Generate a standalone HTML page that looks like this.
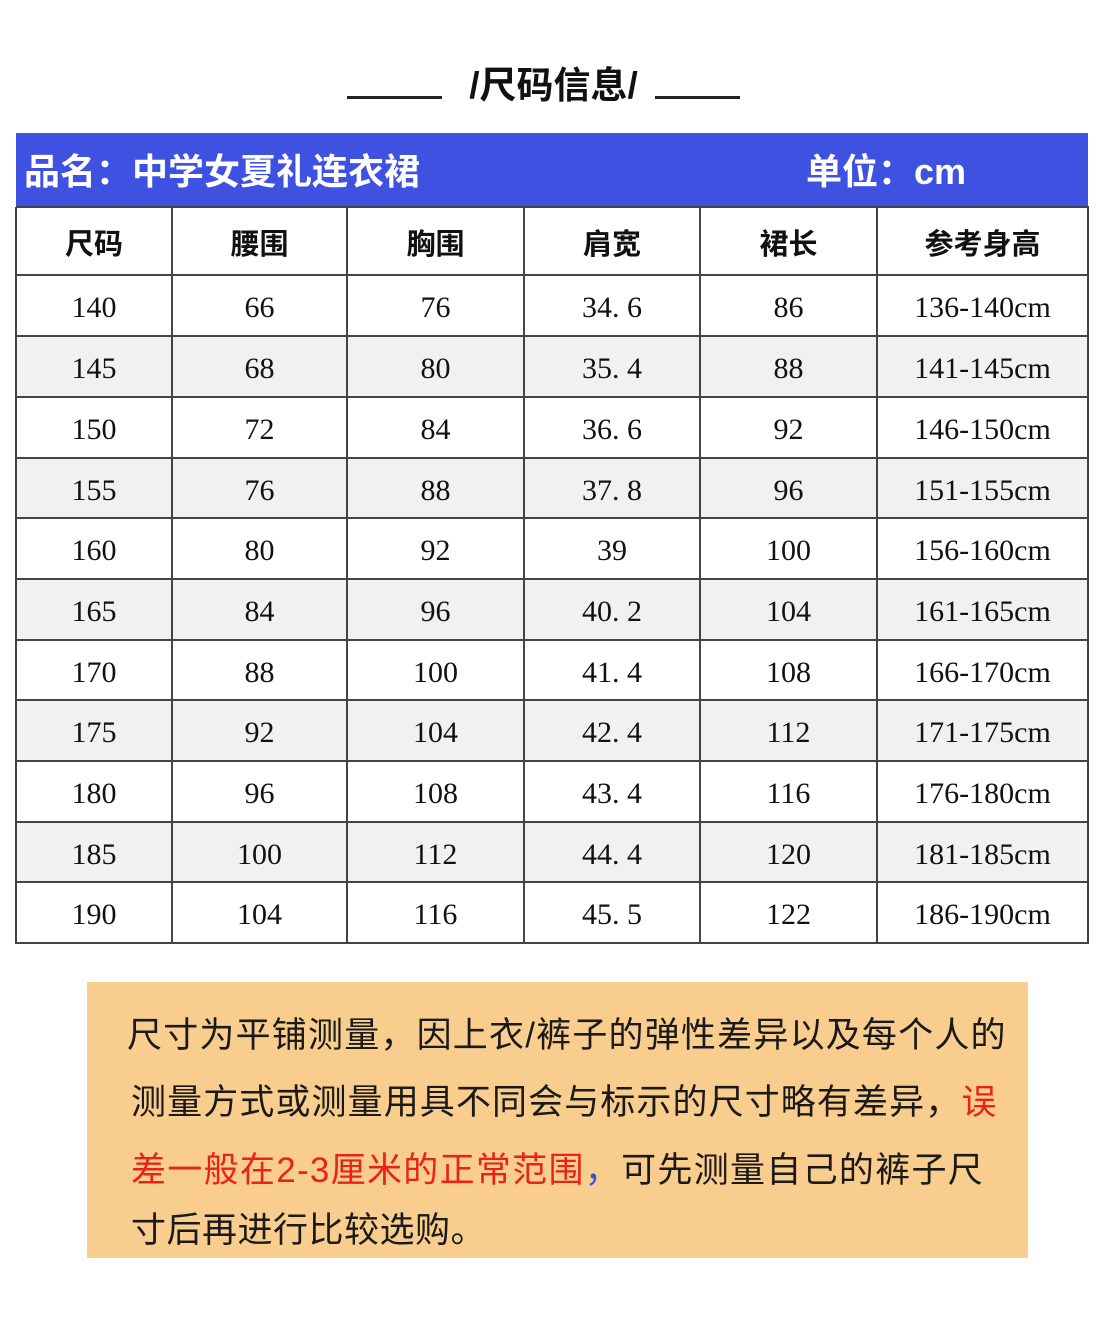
<!DOCTYPE html>
<html><head><meta charset="utf-8">
<style>
html,body{margin:0;padding:0;background:#fff;}
body{width:1107px;height:1323px;position:relative;overflow:hidden;font-family:"Liberation Sans","Noto Sans CJK SC",sans-serif;}
.abs{position:absolute;}
.title{left:0;width:1107px;top:61px;text-align:center;font:bold 37px "Liberation Sans","Noto Sans CJK SC",sans-serif;color:#111;line-height:50px;}
.ln{height:3px;background:#222;top:96px;}
.bar{left:16px;top:133px;width:1072px;height:74px;background:#3f51e0;}
.bar span{position:absolute;top:2px;color:#fff;font:bold 36px "Liberation Sans","Noto Sans CJK SC",sans-serif;line-height:74px;}
.row{position:absolute;left:16px;width:1072px;}
.hl{position:absolute;left:16px;width:1073px;height:2px;background:#444;}
.vl{position:absolute;width:2px;background:#444;top:207px;height:737px;}
.cell{position:absolute;text-align:center;font:30px "Liberation Serif","Noto Serif CJK SC",serif;color:#111;}
.hcell{position:absolute;text-align:center;font:bold 29px "Liberation Sans","Noto Sans CJK SC",sans-serif;color:#111;}
.box{left:87px;top:982px;width:941px;height:276px;background:#f9cd8d;}
.t{position:absolute;left:127px;white-space:nowrap;font:35px "Liberation Sans","Noto Sans CJK SC",sans-serif;color:#1a1a1a;line-height:50px;}
.red{color:#e8231b;}
.blue{color:#3355cc;}
</style></head>
<body>
<div class="abs ln" style="left:347px;width:95px;"></div>
<div class="abs ln" style="left:655px;width:85px;"></div>
<div class="abs title">/尺码信息/</div>

<div class="abs bar">
<span style="left:8px;">品名：中学女夏礼连衣裙</span>
<span style="left:790px;">单位：cm</span>
</div>

<div class="row" style="top:336px;height:61px;background:#f1f1f1;"></div>
<div class="row" style="top:458px;height:60px;background:#f1f1f1;"></div>
<div class="row" style="top:579px;height:61px;background:#f1f1f1;"></div>
<div class="row" style="top:700px;height:61px;background:#f1f1f1;"></div>
<div class="row" style="top:822px;height:60px;background:#f1f1f1;"></div>

<div class="hl" style="top:206px;"></div>
<div class="hl" style="top:274px;"></div>
<div class="hl" style="top:335px;"></div>
<div class="hl" style="top:396px;"></div>
<div class="hl" style="top:457px;"></div>
<div class="hl" style="top:517px;"></div>
<div class="hl" style="top:578px;"></div>
<div class="hl" style="top:639px;"></div>
<div class="hl" style="top:699px;"></div>
<div class="hl" style="top:760px;"></div>
<div class="hl" style="top:821px;"></div>
<div class="hl" style="top:881px;"></div>
<div class="hl" style="top:942px;"></div>

<div class="vl" style="left:15px;"></div>
<div class="vl" style="left:171px;"></div>
<div class="vl" style="left:346px;"></div>
<div class="vl" style="left:523px;"></div>
<div class="vl" style="left:699px;"></div>
<div class="vl" style="left:876px;"></div>
<div class="vl" style="left:1087px;"></div>

<div class="hcell" style="left:16px;width:156px;top:222px;line-height:46px;">尺码</div>
<div class="hcell" style="left:172px;width:175px;top:222px;line-height:46px;">腰围</div>
<div class="hcell" style="left:347px;width:177px;top:222px;line-height:46px;">胸围</div>
<div class="hcell" style="left:524px;width:176px;top:222px;line-height:46px;">肩宽</div>
<div class="hcell" style="left:700px;width:177px;top:222px;line-height:46px;">裙长</div>
<div class="hcell" style="left:877px;width:211px;top:222px;line-height:46px;">参考身高</div>

<div id="data"></div>
<script>
var rows=[
["140","66","76","34. 6","86","136-140cm"],
["145","68","80","35. 4","88","141-145cm"],
["150","72","84","36. 6","92","146-150cm"],
["155","76","88","37. 8","96","151-155cm"],
["160","80","92","39","100","156-160cm"],
["165","84","96","40. 2","104","161-165cm"],
["170","88","100","41. 4","108","166-170cm"],
["175","92","104","42. 4","112","171-175cm"],
["180","96","108","43. 4","116","176-180cm"],
["185","100","112","44. 4","120","181-185cm"],
["190","104","116","45. 5","122","186-190cm"]];
var tops=[275,336,397,458,518,579,640,700,761,822,882];
var cl=[16,172,347,524,700,877,1088];
var h='';
for(var r=0;r<rows.length;r++){for(var c=0;c<6;c++){
h+='<div class="cell" style="left:'+cl[c]+'px;width:'+(cl[c+1]-cl[c])+'px;top:'+(tops[r]+10)+'px;line-height:46px;">'+rows[r][c]+'</div>';}}
document.getElementById('data').innerHTML=h;
</script>

<div class="abs box"></div>
<div class="t" style="top:1011px;letter-spacing:1.2px;">尺寸为平铺测量，因上衣/裤子的弹性差异以及每个人的</div>
<div class="t" style="top:1078px;left:131px;letter-spacing:1.1px;">测量方式或测量用具不同会与标示的尺寸略有差异，<span class="red">误</span></div>
<div class="t" style="top:1146px;left:131px;letter-spacing:1.3px;"><span class="red">差一般在2-3厘米的正常范围</span><span class="blue">，</span>可先测量自己的裤子尺</div>
<div class="t" style="top:1206px;left:131px;letter-spacing:0.5px;">寸后再进行比较选购。</div>
</body></html>
